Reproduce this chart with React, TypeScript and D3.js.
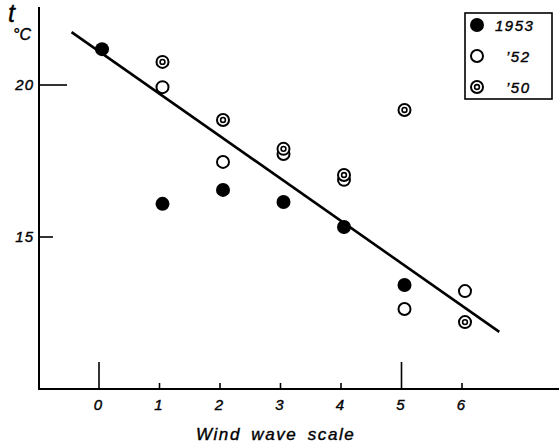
import React, { useRef, useEffect } from 'react';
import * as d3 from 'd3';

// wind wave scale vs water temperature (°C)
const scaleX = [0, 1, 2, 3, 4, 5, 6];
const xTickLabels = ['0', '1', '2', '3', '4', '5', '6'];
const yTickValues = [20, 15];
const yTickLabels = ['20', '15'];

const y1953 = [21.18, 16.09, 16.55, 16.15, 15.33, 13.42];
const x1953 = [0, 1, 2, 3, 4, 5];
const y1952 = [19.93, 17.47, 17.73, 16.88, 12.63, 13.22];
const x1952 = [1, 2, 3, 4, 5, 6];
const y1950 = [20.76, 18.85, 17.9, 17.04, 19.18, 12.2];
const x1950 = [1, 2, 3, 4, 5, 6];

const fitX = [-0.47, 6.6];
const fitY = [21.74, 11.88];

const legendLabels = ['1953', '\u201952', '\u201950'];

const W = 559;
const H = 445;

const App = () => {
  const ref = useRef<SVGSVGElement>(null);

  useEffect(() => {
    document.body.style.margin = '0';
    const svg = d3.select(ref.current);
    svg.selectAll('*').remove();

    const font = '"Liberation Sans", Arial, sans-serif';
    const x = d3.scaleLinear().domain([0, 6]).range([100, 463]);
    const y = d3.scaleLinear().domain([10, 20]).range([389, 85]);
    const axisLeft = 39;
    const axisBottom = y(10);

    const label = (g, tx, ty, size, str) =>
      g.append('text')
        .attr('x', tx).attr('y', ty)
        .attr('font-family', font).attr('font-style', 'italic')
        .attr('font-size', size)
        .attr('stroke', '#000').attr('stroke-width', 0.4)
        .text(str);

    svg.append('rect').attr('width', W).attr('height', H).attr('fill', '#fff');

    // axes
    svg.append('line')
      .attr('x1', axisLeft).attr('x2', axisLeft)
      .attr('y1', 7).attr('y2', axisBottom + 1)
      .attr('stroke', '#000').attr('stroke-width', 2);
    svg.append('line')
      .attr('x1', axisLeft - 1).attr('x2', W)
      .attr('y1', axisBottom).attr('y2', axisBottom)
      .attr('stroke', '#000').attr('stroke-width', 2);

    // y ticks
    yTickValues.forEach((v, i) => {
      svg.append('line')
        .attr('x1', axisLeft).attr('x2', i === 0 ? 67 : 53)
        .attr('y1', y(v)).attr('y2', y(v))
        .attr('stroke', '#000').attr('stroke-width', 1.6);
      label(svg, 34, y(v) + 5, 15, yTickLabels[i])
        .attr('text-anchor', 'end').attr('letter-spacing', 1);
    });

    // x ticks
    scaleX.forEach((v, i) => {
      const tall = v === 0 || v === 5;
      svg.append('line')
        .attr('x1', x(v) - 1).attr('x2', x(v) - 1)
        .attr('y1', axisBottom).attr('y2', axisBottom - (tall ? 27 : 6))
        .attr('stroke', '#000').attr('stroke-width', 1.6);
      label(svg, x(v) - 2, axisBottom + 21, 15, xTickLabels[i]).attr('text-anchor', 'middle');
    });

    // axis titles
    label(svg, 196, 440, 17, 'Wind wave scale')
      .attr('letter-spacing', 1.6).attr('word-spacing', 4);
    label(svg, 8, 22, 25, 't');
    label(svg, 13, 40, 16, '°C');

    // regression line
    svg.append('line')
      .attr('x1', x(fitX[0])).attr('y1', y(fitY[0]))
      .attr('x2', x(fitX[1])).attr('y2', y(fitY[1]))
      .attr('stroke', '#000').attr('stroke-width', 2.6);

    const filled = (g, cx, cy) => {
      g.append('circle').attr('cx', cx).attr('cy', cy).attr('r', 7).attr('fill', '#000');
    };
    const open = (g, cx, cy) => {
      g.append('circle').attr('cx', cx).attr('cy', cy).attr('r', 6)
        .attr('fill', '#fff').attr('stroke', '#000').attr('stroke-width', 2);
    };
    const bull = (g, cx, cy) => {
      g.append('circle').attr('cx', cx).attr('cy', cy).attr('r', 6)
        .attr('fill', '#fff').attr('stroke', '#000').attr('stroke-width', 2);
      g.append('circle').attr('cx', cx).attr('cy', cy).attr('r', 2.4)
        .attr('fill', 'none').attr('stroke', '#000').attr('stroke-width', 1.6);
    };

    const pts = svg.append('g');
    x1952.forEach((v, i) => open(pts, x(v) + 2, y(y1952[i])));
    x1950.forEach((v, i) => bull(pts, x(v) + 2, y(y1950[i])));
    x1953.forEach((v, i) => filled(pts, x(v) + 2, y(y1953[i])));

    // legend
    const lg = svg.append('g');
    lg.append('rect')
      .attr('x', 465).attr('y', 13).attr('width', 87).attr('height', 86)
      .attr('fill', '#fff').attr('stroke', '#000').attr('stroke-width', 1.6);
    const markers = [filled, open, bull];
    legendLabels.forEach((str, i) => {
      const cy = 25 + i * 31;
      markers[i](lg, 477, cy);
      label(lg, i === 0 ? 495 : 506, cy + 6, 15, str).attr('letter-spacing', 1.5);
    });
  }, []);

  return <svg ref={ref} width={W} height={H} style={{ display: 'block' }} />;
};

export default App;
